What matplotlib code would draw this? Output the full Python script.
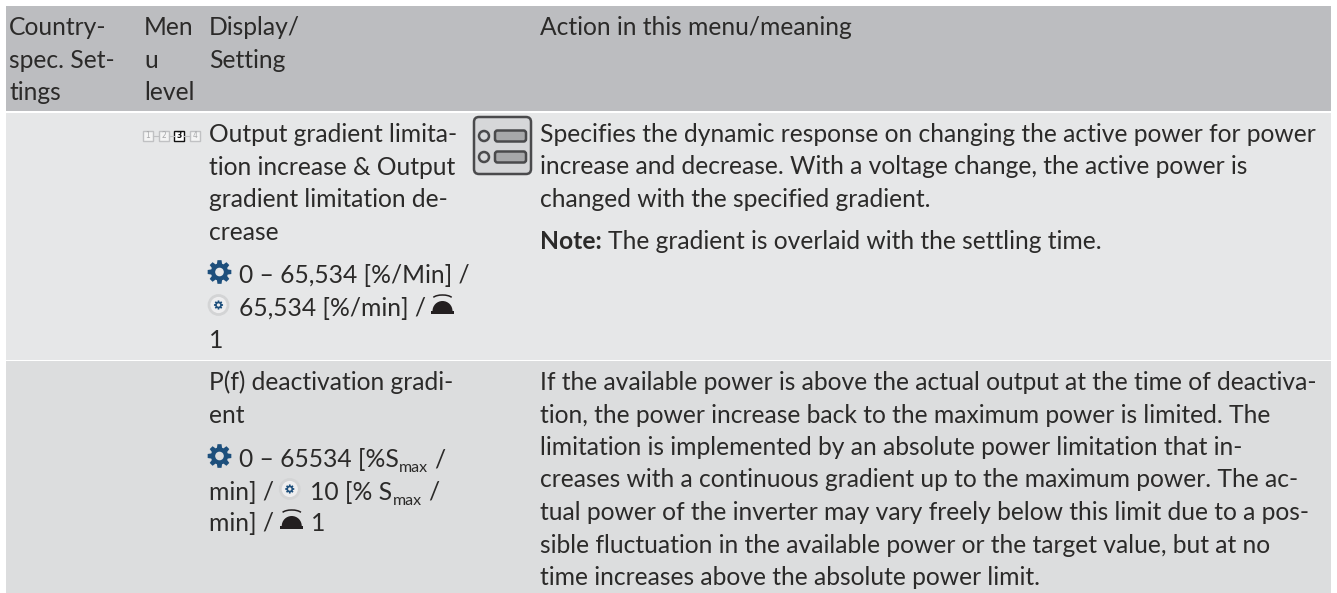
import numpy as np
import matplotlib
matplotlib.use("Agg")
import matplotlib.pyplot as plt
from matplotlib.patches import Rectangle, FancyBboxPatch, Circle, Wedge, Arc, Polygon

W, H = 1337, 593
RIGHT = 1331
FONT = "Lato"
FS = 17.75
INK = "#2b2a29"
GEAR = "#1d4f7c"

# table content
header_cells = [
    (9, ["Country-", "spec. Set-", "tings"]),
    (144, ["Men", "u", "level"]),
    (209, ["Display/", "Setting"]),
    (540, ["Action in this menu/meaning"]),
]
header_baselines = [35, 68, 100]

row1_setting = [
    (209, 142, [("Output gradient limita-", "n")]),
    (209, 175, [("tion increase & Output", "n")]),
    (209, 207, [("gradient limitation de-", "n")]),
    (209, 240, [("crease", "n")]),
    (209, 283, [("gear", "i"), (" 0 – 65,534 [%/Min] /", "n")]),
    (209, 316, [("ring", "i"), (" 65,534 [%/min] /", "n")]),
    (431, 316, [("bell", "i")]),
    (209, 348, [("1", "n")]),
]
row1_action = [
    (540, 142, [("Specifies the dynamic response on changing the active power for power", "n")]),
    (540, 174, [("increase and decrease. With a voltage change, the active power is", "n")]),
    (540, 207, [("changed with the specified gradient.", "n")]),
    (540, 249, [("Note:", "b"), (" The gradient is overlaid with the settling time.", "n")]),
]
row2_setting = [
    (209, 390, [("P(f) deactivation gradi-", "n")]),
    (209, 423, [("ent", "n")]),
    (209, 467, [("gear", "i"), (" 0 – 65534 [%S", "n"), ("max", "s"), (" /", "n")]),
    (209, 500, [("min] / ", "n"), ("ring", "i"), (" 10 [% S", "n"), ("max", "s"), (" /", "n")]),
    (209, 531, [("min] / ", "n"), ("bell", "i"), (" 1", "n")]),
]
row2_action = [
    "If the available power is above the actual output at the time of deactiva-",
    "tion, the power increase back to the maximum power is limited. The",
    "limitation is implemented by an absolute power limitation that in-",
    "creases with a continuous gradient up to the maximum power. The ac-",
    "tual power of the inverter may vary freely below this limit due to a pos-",
    "sible fluctuation in the available power or the target value, but at no",
    "time increases above the absolute power limit.",
]
row2_action_baselines = [390, 423, 455, 487, 520, 553, 585]
level_labels = ["1", "2", "3", "4"]
active_level = "3"

fig = plt.figure(figsize=(W / 100, H / 100), dpi=100)
ax = fig.add_axes([0, 0, 1, 1])
ax.set_xlim(0, W)
ax.set_ylim(H, 0)
ax.axis("off")

ax.add_patch(Rectangle((6, 6), RIGHT - 6, 105, fc="#bcbdc0", ec="none"))
ax.add_patch(Rectangle((6, 112.5), RIGHT - 6, 247, fc="#e6e7e8", ec="none"))
ax.add_patch(Rectangle((6, 361), RIGHT - 6, 232, fc="#dcddde", ec="none"))


def put(x, y, s, **kw):
    kw.setdefault("family", FONT)
    kw.setdefault("size", FS)
    kw.setdefault("color", INK)
    return ax.text(x, y, s, va="baseline", ha="left", **kw)


def advance(t):
    return t.get_window_extent(fig.canvas.get_renderer()).width


def space_w():
    t = put(0, 0, "n n")
    a = advance(t)
    t.set_text("nn")
    b = advance(t)
    t.remove()
    return a - b


def gear_shape(cx, cy, r, bg):
    teeth = 8
    pts = []
    for k in range(teeth):
        a = 2 * np.pi * k / teeth
        for da, rr in ((-0.30, 0.72), (-0.17, 1.0), (0.17, 1.0), (0.30, 0.72)):
            pts.append((cx + r * rr * np.cos(a + da), cy + r * rr * np.sin(a + da)))
    ax.add_patch(Polygon(pts, closed=True, fc=GEAR, ec="none"))
    ax.add_patch(Circle((cx, cy), r * 0.36, fc=bg, ec="none"))


def ring(x, y):
    ax.add_patch(Circle((x, y - 11), 9.5, fc="#eeeeef", ec="#d3d4d5", lw=2.0))
    gear_shape(x, y - 11, 4.6, "#eeeeef")


def bell(x, y):
    ax.add_patch(Wedge((x, y - 5), 10, 180, 360, fc="#231f20", ec="none"))
    ax.add_patch(Rectangle((x - 11.5, y - 5), 23, 3, fc="#231f20", ec="none"))
    ax.add_patch(Arc((x, y - 17), 20, 8, theta1=190, theta2=350, ec="#231f20", lw=1.1))


def line(x, y, segs, bg):
    sp = space_w()
    for s, kind in segs:
        if kind == "i":
            if s == "gear":
                gear_shape(x + 10.5, y - 11, 12, bg)
                x += 24
            elif s == "ring":
                ring(x + 9.5, y)
                x += 24
            else:
                bell(x + 11.5, y)
                x += 24
            continue
        lead = len(s) - len(s.lstrip())
        x += lead * sp
        trail = len(s) - len(s.rstrip())
        body = s.strip()
        if kind == "s":
            t = put(x, y + 5, body, size=FS * 0.65)
        elif kind == "b":
            t = put(x, y, body, weight="bold")
        else:
            t = put(x, y, body)
        x += advance(t) + trail * sp


for x, lines in header_cells:
    for y, s in zip(header_baselines, lines):
        put(x, y, s)
for block, bg in ((row1_setting, "#e6e7e8"), (row1_action, "#e6e7e8"), (row2_setting, "#dcddde")):
    for x, y, segs in block:
        line(x, y, segs, bg)
for y, s in zip(row2_action_baselines, row2_action):
    put(540, y, s)

# menu-level indicator
for i, lab in enumerate(level_labels):
    x0 = 143 + i * 15.7
    on = lab == active_level
    ax.add_patch(Rectangle((x0, 131), 10, 10, fc="#f4f4f4" if not on else "white",
                           ec="#111111" if on else "#c0c1c3", lw=1.0))
    ax.text(x0 + 5, 136, lab, ha="center", va="center", family="DejaVu Sans", size=5.5,
            weight="bold" if on else "normal", color="#111111" if on else "#a8a9ab")
    if i < 3:
        ax.plot([x0 + 10, x0 + 15.7], [136, 136], color="#c0c1c3", lw=0.8)

# menu icon
ax.add_patch(FancyBboxPatch((474, 117), 57, 57, boxstyle="round,pad=0,rounding_size=5",
                            fc="#d6d7d9", ec="#4a4a4c", lw=1.8))
for yy in (136, 157):
    ax.add_patch(Circle((484, yy), 5, fc="#d6d7d9", ec="#4a4a4c", lw=1.8))
    ax.add_patch(FancyBboxPatch((495, yy - 5.5), 31, 11, boxstyle="round,pad=0,rounding_size=2.5",
                                fc="#a7a8aa", ec="#4a4a4c", lw=1.8))

fig.savefig("out.png", dpi=100, facecolor="white")
